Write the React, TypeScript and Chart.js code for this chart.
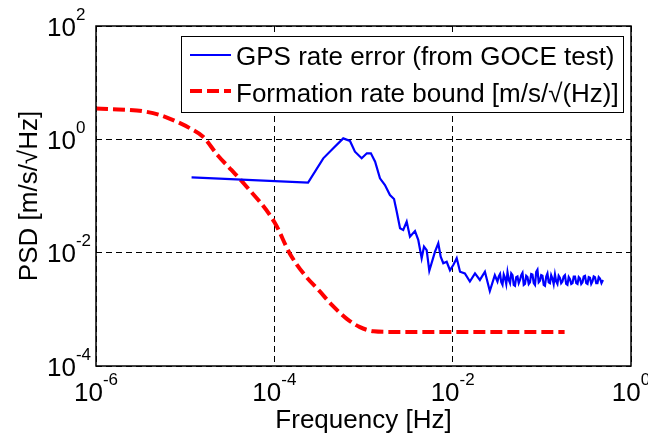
import React, { useEffect, useRef } from 'react';
import { Chart, registerables } from 'chart.js';

Chart.register(...registerables);

// ---- data ----
const boundFreq = [
  1.0e-6, 1.5e-6, 2.4e-6, 3.5e-6, 5.2e-6, 7.7e-6, 1.13e-5, 1.6e-5, 2.3e-5, 3.3e-5,
  4.6e-5, 1.0e-4, 1.5e-4, 2.2e-4, 3.2e-4, 4.5e-4, 6.5e-4, 9.0e-4, 1.3e-3, 2.0e-3,
  1.0e-2, 0.18,
];
const boundPsd = [
  3.5, 3.4, 3.3, 3.1, 2.69, 2.11, 1.57, 1.1, 0.53, 0.288,
  0.163, 0.0348, 0.0095, 0.004, 0.00211, 0.00116, 0.00068, 0.00049, 0.00041, 0.0004,
  0.0004, 0.0004,
];

const gpsFreq = [
  1.18e-5, 2.39e-4, 3.54e-4, 4.58e-4, 5.93e-4, 7.05e-4, 8.02e-4, 9.54e-4, 1.09e-3, 1.21e-3,
  1.35e-3, 1.53e-3, 1.74e-3, 1.98e-3, 2.2e-3, 2.36e-3, 2.57e-3, 2.79e-3, 3.05e-3, 3.32e-3,
  3.78e-3, 4.11e-3, 4.49e-3, 4.77e-3, 5.11e-3, 5.47e-3, 6.34e-3, 6.9e-3, 7.34e-3, 7.85e-3,
  8.57e-3, 9.33e-3, 1.02e-2, 1.11e-2, 1.21e-2, 1.37e-2, 1.56e-2, 1.78e-2, 2.02e-2, 2.3e-2,
  2.61e-2, 2.97e-2,
  0.0318, 0.0329, 0.034, 0.0351, 0.0362, 0.0374, 0.0386, 0.0399, 0.0412, 0.0426,
  0.044, 0.0454, 0.0469, 0.0484, 0.05, 0.0516, 0.0533, 0.0551, 0.0569, 0.0588,
  0.0607, 0.0627, 0.0647, 0.0668, 0.069, 0.0713, 0.0736, 0.076, 0.0785, 0.0811,
  0.0838, 0.0865, 0.0893, 0.0922, 0.0953, 0.0984, 0.1016, 0.105, 0.1084, 0.112,
  0.1156, 0.1194, 0.1233, 0.1273, 0.1315, 0.1358, 0.1403, 0.1449, 0.1496, 0.1545,
  0.1596, 0.1648, 0.1702, 0.1758, 0.1815, 0.1875, 0.1936, 0.2002, 0.207, 0.2138,
  0.2208, 0.228, 0.2355, 0.2432, 0.2512, 0.2594, 0.2679, 0.2767, 0.2858, 0.2951,
  0.3048, 0.3148, 0.3251, 0.3357, 0.3467, 0.3581, 0.3698, 0.382, 0.3945, 0.4074,
  0.4207, 0.4345, 0.4487, 0.4665, 0.485,
];
const gpsPsd = [
  0.214, 0.173, 0.462, 0.695, 1.04, 0.935, 0.605, 0.463, 0.567, 0.567,
  0.403, 0.205, 0.156, 0.104, 0.0885, 0.0528, 0.0269, 0.0251, 0.0352, 0.0191,
  0.0241, 0.0168, 0.008, 0.0128, 0.0111, 0.0048, 0.0104, 0.0146, 0.0085, 0.0065,
  0.0069, 0.0049, 0.0061, 0.008, 0.0046, 0.0043, 0.0031, 0.0043, 0.0033, 0.0046,
  0.0021, 0.004,
  0.0031, 0.0038, 0.0042, 0.003, 0.0027, 0.0041, 0.0036, 0.0028, 0.0045, 0.0033,
  0.0029, 0.0043, 0.004, 0.0027, 0.0026, 0.0037, 0.0038, 0.0029, 0.0033, 0.004,
  0.0044, 0.0027, 0.0028, 0.0039, 0.0037, 0.0028, 0.003, 0.0042, 0.0041, 0.0029,
  0.0027, 0.0046, 0.005, 0.003, 0.0032, 0.004, 0.0039, 0.0027, 0.0026, 0.0038,
  0.0043, 0.003, 0.0029, 0.004, 0.0035, 0.0028, 0.0041, 0.0031, 0.0028, 0.0039,
  0.0036, 0.0029, 0.0031, 0.0038, 0.004, 0.0028, 0.0027, 0.0037, 0.0034, 0.0028,
  0.0029, 0.0038, 0.0038, 0.0029, 0.0028, 0.0037, 0.0035, 0.0028, 0.003, 0.0038,
  0.0039, 0.0029, 0.0028, 0.0037, 0.0036, 0.0028, 0.0031, 0.0038, 0.0037, 0.0029,
  0.0029, 0.0037, 0.0035, 0.0029, 0.0033,
];

const xTickExponents = [-6, -4, -2, 0];
const yTickExponents = [-4, -2, 0, 2];
const seriesLabels = ['GPS rate error (from GOCE test)', 'Formation rate bound [m/s/\u221A(Hz)]'];
const xTitle = 'Frequency [Hz]';
const yTitle = 'PSD [m/s/\u221AHz]';

const FONT = '"Liberation Sans", Arial, sans-serif';
const BIG = `26px ${FONT}`;
const SMALL = `17px ${FONT}`;

const decorPlugin = {
  id: 'decor',
  afterDraw(chart: any) {
    const ctx = chart.ctx as CanvasRenderingContext2D;
    const { left, right, top, bottom } = chart.chartArea;
    const xs = chart.scales.x;
    const ys = chart.scales.y;
    ctx.save();
    ctx.setLineDash([]);
    ctx.strokeStyle = '#000';
    ctx.lineWidth = 1.5;
    ctx.strokeRect(left, top, right - left, bottom - top);

    ctx.fillStyle = '#000';
    ctx.textAlign = 'left';
    ctx.textBaseline = 'alphabetic';
    // x tick labels
    for (const e of xTickExponents) {
      const px = xs.getPixelForValue(Math.pow(10, e));
      ctx.font = BIG;
      const wb = ctx.measureText('10').width;
      ctx.font = SMALL;
      const sup = String(e);
      const ws = ctx.measureText(sup).width;
      const x0 = px - (wb + ws) / 2;
      const base = bottom + 34.5;
      ctx.font = BIG;
      ctx.fillText('10', x0, base);
      ctx.font = SMALL;
      ctx.fillText(sup, x0 + wb, base - 16);
    }
    // y tick labels
    for (const e of yTickExponents) {
      const py = ys.getPixelForValue(Math.pow(10, e));
      ctx.font = BIG;
      const wb = ctx.measureText('10').width;
      const base = py + 9.7;
      ctx.fillText('10', 47, base);
      ctx.font = SMALL;
      ctx.fillText(String(e), 47 + wb, base - 16);
    }
    // titles
    ctx.font = BIG;
    ctx.textAlign = 'center';
    ctx.fillText(xTitle, (left + right) / 2, 428);
    ctx.save();
    ctx.translate(37, (top + bottom) / 2);
    ctx.rotate(-Math.PI / 2);
    ctx.fillText(yTitle, 0, 0);
    ctx.restore();

    // legend
    const lx = 181, ly = 36, lw = 442, lh = 76;
    ctx.fillStyle = '#fff';
    ctx.fillRect(lx, ly, lw, lh);
    ctx.strokeStyle = '#000';
    ctx.lineWidth = 1;
    ctx.strokeRect(lx + 0.5, ly + 0.5, lw, lh);
    ctx.beginPath();
    ctx.strokeStyle = '#0000FF';
    ctx.lineWidth = 2;
    ctx.moveTo(190, 55);
    ctx.lineTo(231, 55);
    ctx.stroke();
    ctx.beginPath();
    ctx.strokeStyle = '#FF0000';
    ctx.lineWidth = 4;
    ctx.setLineDash([12, 5]);
    ctx.moveTo(190, 91);
    ctx.lineTo(231, 91);
    ctx.stroke();
    ctx.setLineDash([]);
    ctx.fillStyle = '#000';
    ctx.textAlign = 'left';
    ctx.font = BIG;
    ctx.fillText(seriesLabels[0], 236, 65);
    ctx.fillText(seriesLabels[1], 236, 101.5);
    ctx.restore();
  },
};

const decadeTicks = (exps: number[]) => (scale: any) => {
  scale.ticks = exps.map((e) => ({ value: Math.pow(10, e) }));
};

export default function App() {
  const ref = useRef<HTMLCanvasElement | null>(null);
  useEffect(() => {
    if (!ref.current) return;
    const chart = new Chart(ref.current, {
      type: 'line',
      data: {
        datasets: [
          {
            label: seriesLabels[0],
            data: gpsFreq.map((f, i) => ({ x: f, y: gpsPsd[i] })),
            borderColor: '#0000FF',
            borderWidth: 2.2,
            pointRadius: 0,
            tension: 0,
            fill: false,
          },
          {
            label: seriesLabels[1],
            data: boundFreq.map((f, i) => ({ x: f, y: boundPsd[i] })),
            borderColor: '#FF0000',
            borderWidth: 4,
            borderDash: [12, 5],
            pointRadius: 0,
            cubicInterpolationMode: 'monotone',
            fill: false,
          },
        ],
      },
      options: {
        responsive: false,
        animation: false,
        devicePixelRatio: 1,
        layout: { padding: { left: 96, top: 26, right: 17, bottom: 75 } },
        plugins: { legend: { display: false }, tooltip: { enabled: false } },
        scales: {
          x: {
            type: 'logarithmic',
            min: 1e-6,
            max: 1,
            afterBuildTicks: decadeTicks(xTickExponents),
            ticks: { display: false },
            grid: { color: '#000', lineWidth: 1, drawTicks: false },
            border: { display: false, dash: [6, 4] },
          },
          y: {
            type: 'logarithmic',
            min: 1e-4,
            max: 100,
            afterBuildTicks: decadeTicks(yTickExponents),
            ticks: { display: false },
            grid: { color: '#000', lineWidth: 1, drawTicks: false },
            border: { display: false, dash: [6, 4] },
          },
        },
      } as any,
      plugins: [decorPlugin],
    });
    return () => chart.destroy();
  }, []);
  return (
    <div style={{ position: 'absolute', left: 0, top: 0, width: 648, height: 441, background: '#fff' }}>
      <canvas ref={ref} width={648} height={441} />
    </div>
  );
}
